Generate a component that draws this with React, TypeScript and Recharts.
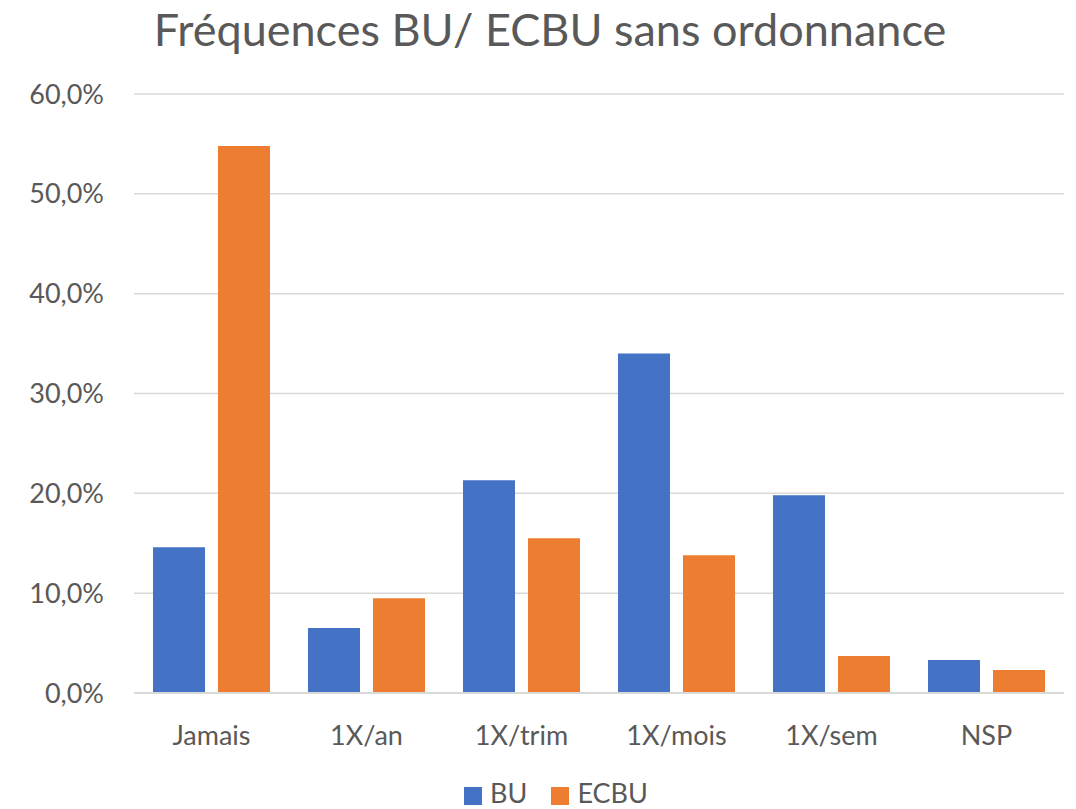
import { BarChart, Bar, XAxis, YAxis, CartesianGrid, Legend } from "recharts";

const categories = ["Jamais", "1X/an", "1X/trim", "1X/mois", "1X/sem", "NSP"];
const buValues = [14.6, 6.5, 21.3, 34.0, 19.8, 3.3];
const ecbuValues = [54.8, 9.5, 15.5, 13.8, 3.7, 2.3];
const yTicks = [0, 10, 20, 30, 40, 50, 60];

const data = categories.map((name, i) => ({
  name,
  BU: buValues[i],
  ECBU: ecbuValues[i],
}));

const font = "Lato, 'Open Sans', sans-serif";
const textColor = "#595959";

const formatPct = (v: number) => v.toFixed(1).replace(".", ",") + "%";

export default function App() {
  return (
    <div
      style={{
        position: "absolute",
        left: 0,
        top: 0,
        width: 1076,
        height: 809,
        background: "#fff",
        overflow: "hidden",
        fontFamily: font,
      }}
    >
      <div
        style={{
          position: "absolute",
          top: 2,
          left: 0,
          width: 1100,
          textAlign: "center",
          fontSize: 45,
          color: textColor,
          lineHeight: "54px",
        }}
      >
        Fréquences BU/ ECBU sans ordonnance
      </div>
      <BarChart
        width={1076}
        height={809}
        data={data}
        margin={{ top: 94, right: 12, bottom: 27, left: 0 }}
        barSize={52}
        barGap={13}
      >
        <CartesianGrid vertical={false} stroke="#d9d9d9" strokeWidth={1.5} />
        <XAxis
          dataKey="name"
          axisLine={{ stroke: "#d9d9d9", strokeWidth: 2 }}
          tickLine={false}
          tickMargin={27}
          height={56}
          tick={{ fill: textColor, fontSize: 27, fontFamily: font }}
        />
        <YAxis
          domain={[0, 60]}
          ticks={yTicks}
          width={134}
          axisLine={false}
          tickLine={false}
          tickMargin={24}
          tickFormatter={formatPct}
          tick={{ fill: textColor, fontSize: 27, fontFamily: font }}
        />
        <Legend
          verticalAlign="bottom"
          align="center"
          iconType="square"
          iconSize={18}
          wrapperStyle={{
            top: 776,
            left: 30,
            width: 1076,
            fontSize: 27,
            fontFamily: font,
          }}
          formatter={(value) => (
            <span style={{ color: textColor, paddingLeft: 4, marginRight: 14 }}>
              {value}
            </span>
          )}
        />
        <Bar dataKey="BU" fill="#4472C4" isAnimationActive={false} />
        <Bar dataKey="ECBU" fill="#ED7D31" isAnimationActive={false} />
      </BarChart>
    </div>
  );
}
